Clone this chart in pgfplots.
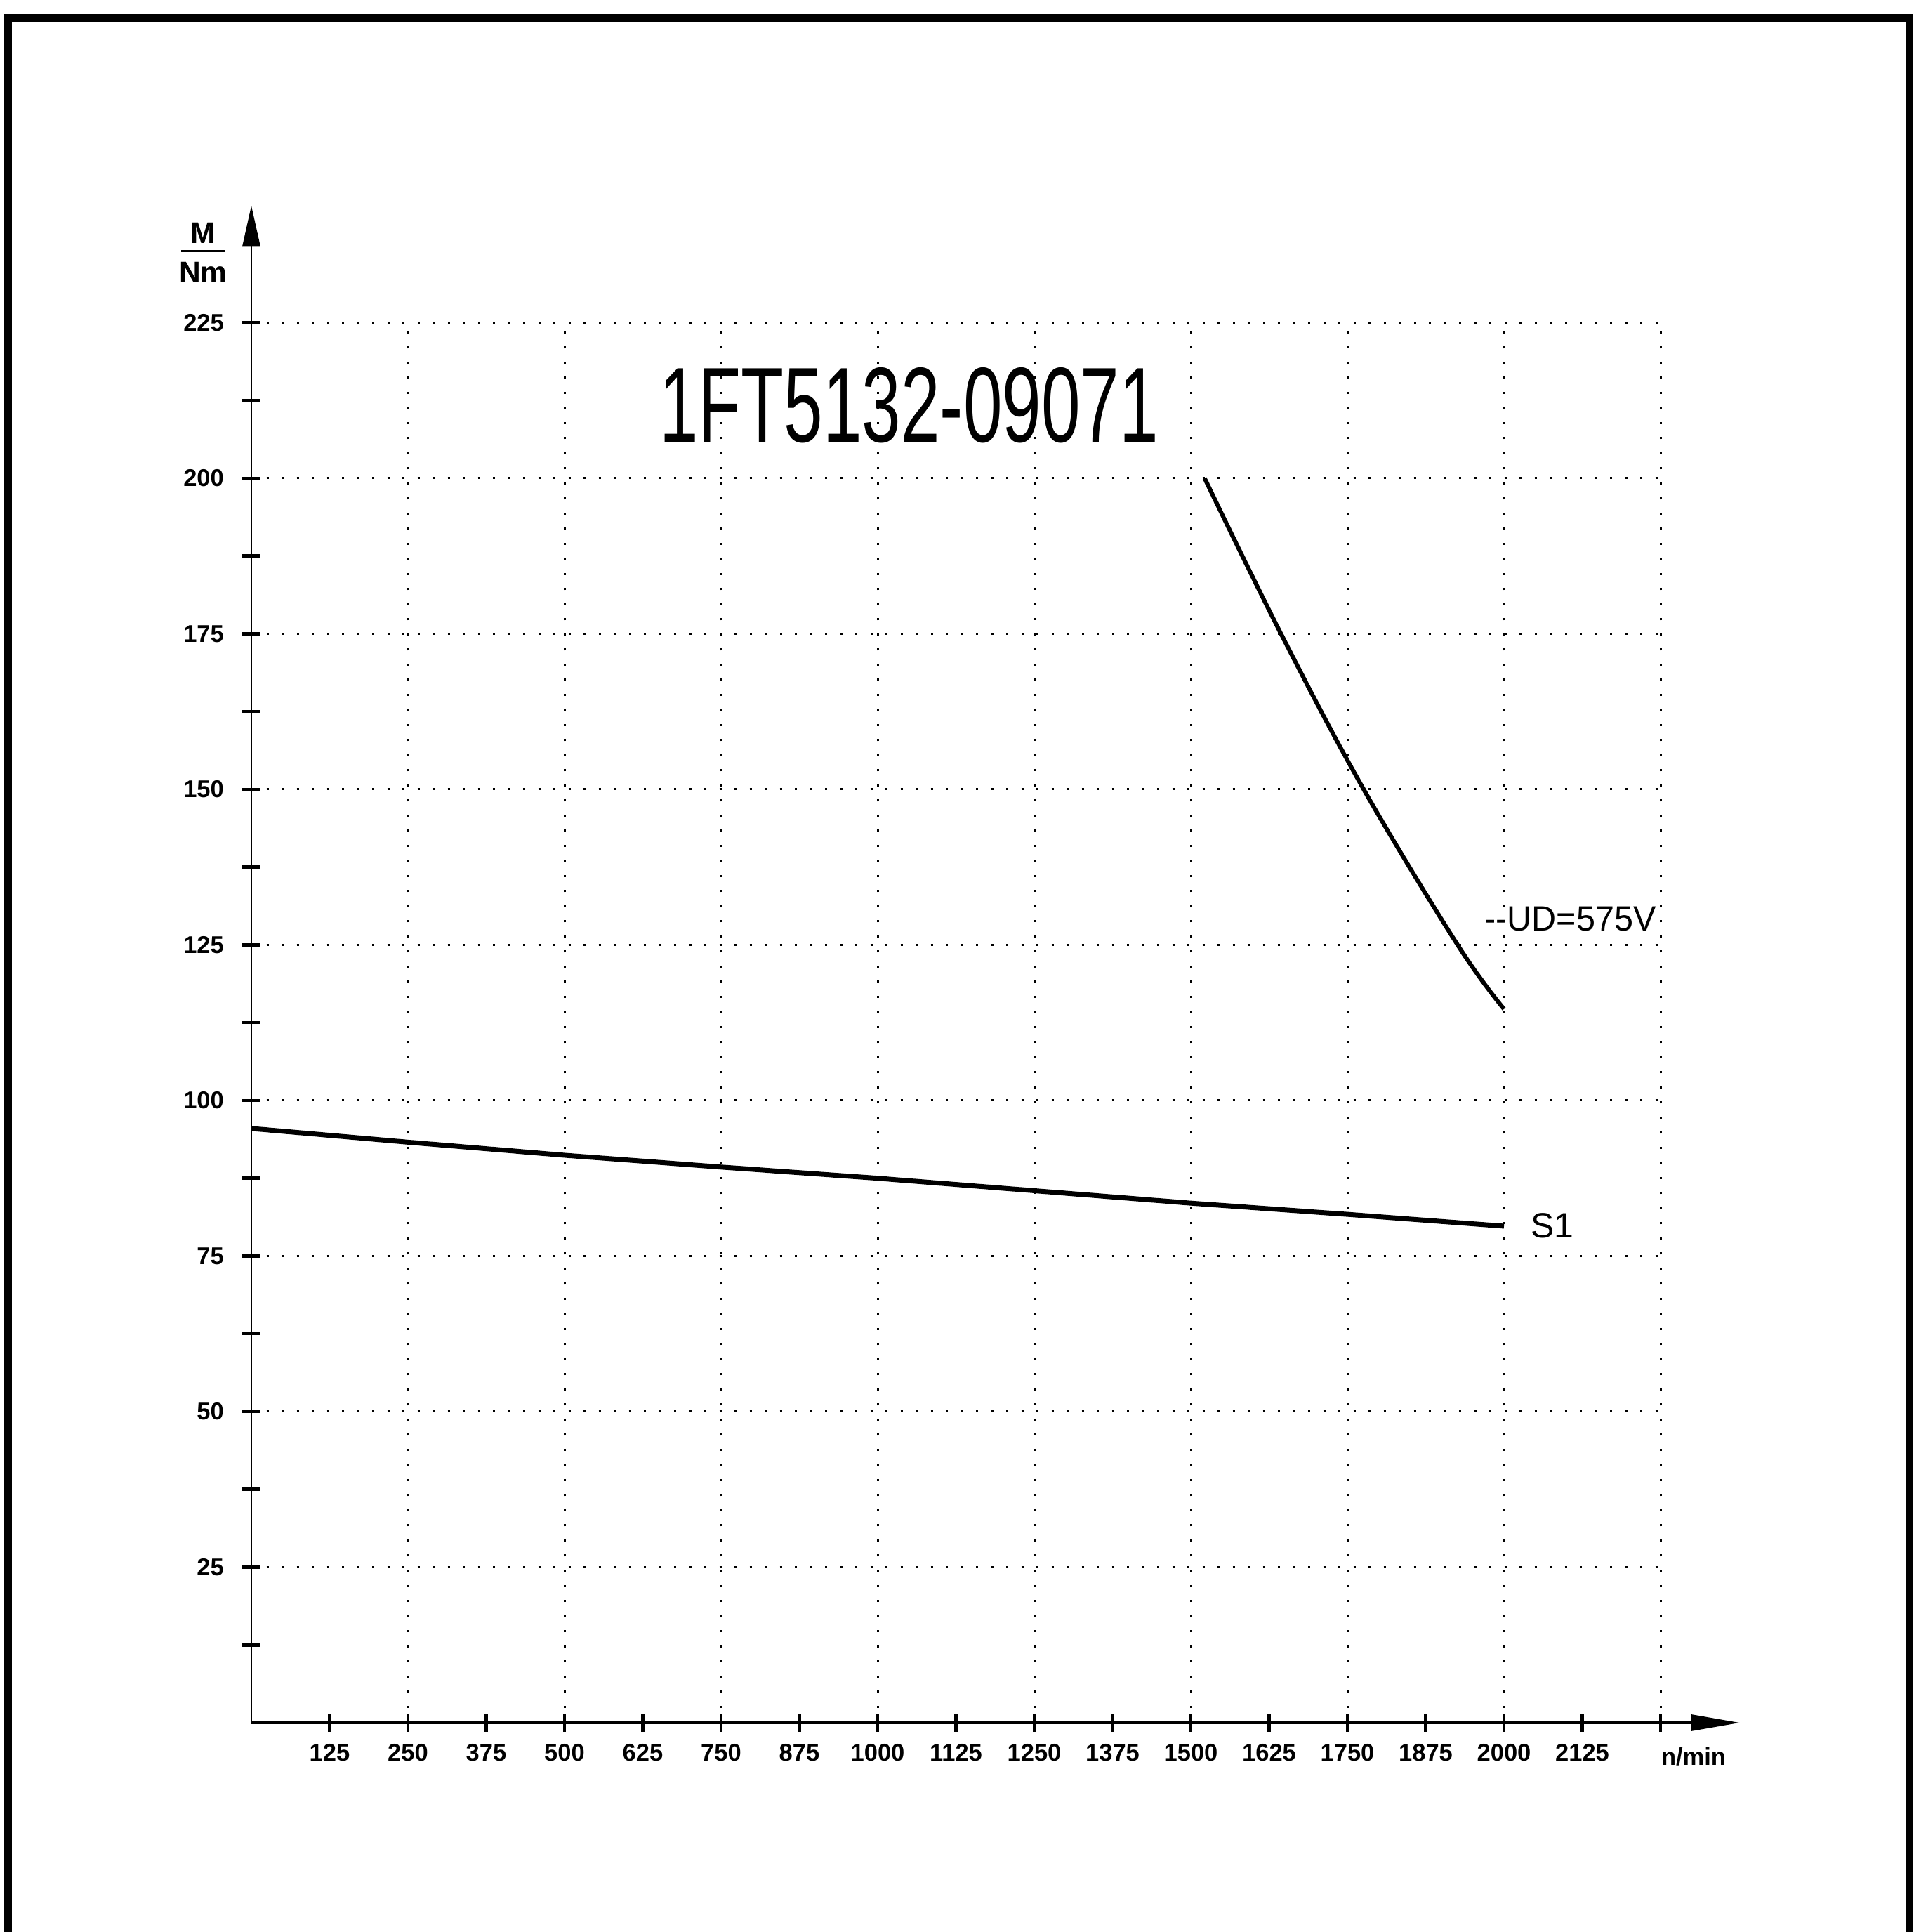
\documentclass[border=0pt]{standalone}
\usepackage{fontspec}
\setmainfont{Liberation Sans}
\usepackage{graphicx}
\usepackage{pgfplots}
\pgfplotsset{compat=1.18}
\usetikzlibrary{arrows.meta}

\begin{document}
\begin{tikzpicture}
\useasboundingbox (-71.6pt,-59.6pt) rectangle (473.4pt,490.6pt);
\begin{axis}[
  anchor=south west, at={(0pt,0pt)},
  x=0.1784pt, y=1.772pt,
  xmin=0, xmax=2250, ymin=0, ymax=225,
  axis lines=left,
  clip=false,
  scaled x ticks=false, scaled y ticks=false,
  /pgf/number format/assume math mode=true,
  /pgf/number format/1000 sep={},
  x axis line style={line width=0.8pt, -{Triangle[length=14pt,width=4.6pt]}, shorten >=-22.6pt},
  y axis line style={line width=0.5pt, -{Triangle[length=11.5pt,width=5pt]}, shorten >=-33.3pt},
  xtick={250,500,750,1000,1250,1500,1750,2000,2250},
  xticklabels={250,500,750,1000,1250,1500,1750,2000,{}},
  extra x ticks={125,375,625,875,1125,1375,1625,1875,2125},
  extra x tick labels={125,375,625,875,1125,1375,1625,1875,2125},
  extra x tick style={grid=none},
  ytick={25,50,...,225},
  minor ytick={12.5,37.5,...,212.5},
  grid=major,
  major grid style={black, line width=0.6pt, dash pattern=on 0.6pt off 3.7pt},
  tick align=center,
  major tick length=5pt, minor tick length=5pt,
  every tick/.style={black, line width=0.9pt},
  every minor tick/.style={black, line width=0.9pt},
  tick label style={font=\fontsize{6.9}{8}\selectfont\bfseries},
  yticklabel style={xshift=-1.8pt},
]
\addplot[black, line width=1.4pt] coordinates {
  (0,95.5) (250,93.3) (500,91.2) (750,89.3) (1000,87.5)
  (1250,85.5) (1500,83.5) (1750,81.7) (2000,79.8)
};
\addplot[black, line width=1.2pt, smooth, tension=0.6] coordinates {
  (1522,200) (1644,175) (1776,150) (1926,125) (2000,114.7)
};
\node[anchor=north west, inner sep=0pt, font=\fontsize{6.9}{8}\selectfont\bfseries] at (axis cs:2250,-3.9) {n/min};
\node[anchor=west, inner sep=0pt, font=\fontsize{10}{12}\selectfont] at (axis cs:1968,129.2) {\scalebox{0.97}[1]{-{}-UD=575V}};
\node[anchor=west, inner sep=0pt, font=\fontsize{10}{12}\selectfont] at (axis cs:2042,79.9) {S1};
\node[inner sep=0pt, font=\fontsize{30.4}{32}\selectfont] at (axis cs:1050,211.7) {\scalebox{0.657}[1]{1FT5132-09071}};
\node[inner sep=0pt, font=\fontsize{8.5}{9}\selectfont\bfseries] at (axis cs:-77,239.4) {M};
\node[inner sep=0pt] at (axis cs:-77,236.5) {\rule{12.4pt}{0.6pt}};
\node[inner sep=0pt, font=\fontsize{8.5}{9}\selectfont\bfseries] at (axis cs:-77,233.1) {Nm};
\end{axis}
\draw[line width=2.2pt, line join=miter] (-69.2pt,-62pt) -- (-69.2pt,485.4pt) -- (472.2pt,485.4pt) -- (472.2pt,-62pt);
\end{tikzpicture}
\end{document}
